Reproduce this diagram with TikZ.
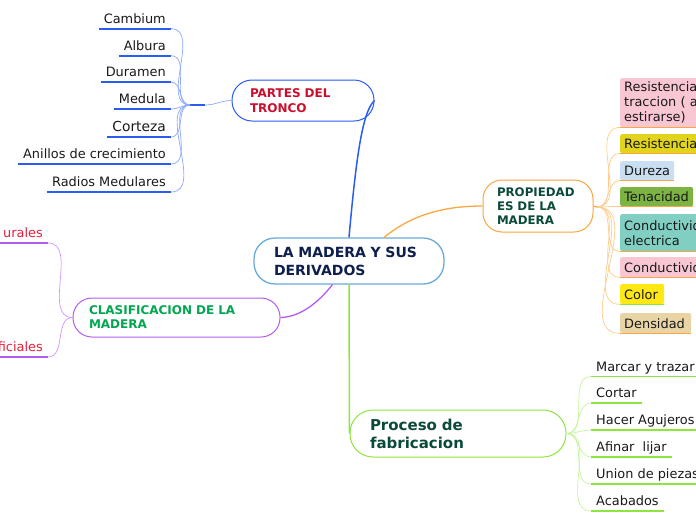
\documentclass[tikz,border=0pt]{standalone}
\usepackage{fontspec}
\setmainfont{DejaVu Sans}
\definecolor{mbblue}{HTML}{2A5CF0}
\definecolor{mblightblue}{HTML}{8AA8FF}
\definecolor{mbsky}{HTML}{6AAAD8}
\definecolor{mbnavy}{HTML}{0E1F4D}
\definecolor{mbcrimson}{HTML}{C8102E}
\definecolor{mborange}{HTML}{F9A73E}
\definecolor{mblightorange}{HTML}{FFCB8C}
\definecolor{mbdkgreen}{HTML}{0B4A3A}
\definecolor{mblime}{HTML}{8EE53F}
\definecolor{mblightlime}{HTML}{C5F59A}
\definecolor{mbpurple}{HTML}{B45CF2}
\definecolor{mblightpurple}{HTML}{CF94FF}
\definecolor{mbgreen}{HTML}{00A650}
\definecolor{mbred}{HTML}{E3203C}
\definecolor{fpink}{HTML}{F8C7D3}
\definecolor{folive}{HTML}{E2D41C}
\definecolor{fsky}{HTML}{C9DFF1}
\definecolor{fgreen}{HTML}{7CB342}
\definecolor{fteal}{HTML}{80CFC2}
\definecolor{fyellow}{HTML}{FFE814}
\definecolor{ftan}{HTML}{E9D4A6}
\newcommand\leaffont{\fontsize{12.9}{15}\selectfont}

\begin{document}
\begin{tikzpicture}[x=1pt,y=-1pt,
    topic/.style={draw,line width=1pt,fill=white,align=left,inner ysep=0pt,
      font=\bfseries\fontsize{12}{14}\selectfont},
    leaf/.style={inner xsep=5pt,inner ysep=0pt,text height=10pt,text depth=5pt,
      font=\leaffont,text=black!90},
    prop/.style={anchor=north west,inner xsep=4pt,inner ysep=0pt,rounded corners=1.5pt,
      align=left,font=\leaffont,text=black!90},
    uline/.style={line width=1.8pt},
    twig/.style={line width=0.7pt}]
  \useasboundingbox (0,0) rectangle (696,520);
  \clip (0,0) rectangle (696,520);

  % central topic and main branches
  \node[topic,draw=mbsky,line width=1.3pt,rounded corners=21pt,text=mbnavy,inner xsep=20pt,
    text width=150pt,minimum height=46pt,font=\bfseries\fontsize{14}{18}\selectfont]
    (madera) at (349,261) {LA MADERA Y SUS\\DERIVADOS};
  \node[topic,draw=mbblue,rounded corners=20pt,text=mbcrimson,inner xsep=18pt,
    text width=106pt,minimum height=41pt,font=\bfseries\fontsize{12}{15}\selectfont]
    (partes) at (303,100.5) {PARTES DEL\\TRONCO};
  \node[topic,draw=mborange,rounded corners=19pt,text=mbdkgreen,inner xsep=14pt,
    text width=82pt,minimum height=52pt,font=\bfseries\fontsize{11.8}{14}\selectfont]
    (prop) at (538,206) {PROPIEDAD\\ES DE LA\\MADERA};
  \node[topic,draw=mbpurple,rounded corners=19pt,text=mbgreen,inner xsep=16pt,
    text width=175pt,minimum height=39pt]
    (clasif) at (176.5,317.5) {CLASIFICACION DE LA\\MADERA};
  \node[topic,draw=mblime,rounded corners=23pt,text=mbdkgreen,inner xsep=20pt,
    text width=176pt,minimum height=47pt,font=\bfseries\fontsize{15}{18}\selectfont]
    (proceso) at (458,433.5) {Proceso de\\fabricacion};

  \draw[mbblue,line width=1.5pt] (madera.north) .. controls (356,160) and (362,112) .. (partes.east);
  \draw[mborange,line width=1.3pt] (madera.34) .. controls (415,212) and (450,206) .. (prop.west);
  \draw[mbpurple,line width=1.3pt] (madera.235) .. controls (318,303) and (300,317) .. (clasif.east);
  \draw[mblime,line width=1.5pt] (madera.south) -- (proceso.west);

  % partes del tronco
  \node[leaf,anchor=south east] (cambium) at (171,28.7) {Cambium};
  \node[leaf,anchor=south east] (albura) at (171,55.7) {Albura};
  \node[leaf,anchor=south east] (duramen) at (171,82) {Duramen};
  \node[leaf,anchor=south east] (medula) at (171,109) {Medula};
  \node[leaf,anchor=south east,font=\fontsize{13.8}{15}\selectfont] (corteza) at (171,137) {Corteza};
  \node[leaf,anchor=south east] (anillos) at (171,164) {Anillos de crecimiento};
  \node[leaf,anchor=south east] (radios) at (171,192) {Radios Medulares};
  \coordinate (pth) at (190,105);
  \coordinate (ptk) at (205,105);
  \draw[mbblue,line width=2pt] (pth) -- (ptk);
  \draw[twig,mblightblue] (ptk) to[out=0,in=180] (partes.west);
  \draw[uline,mbblue] (cambium.south west) -- (cambium.south east);
  \draw[uline,mbblue] (albura.south west) -- (albura.south east);
  \draw[uline,mbblue] (duramen.south west) -- (duramen.south east);
  \draw[uline,mbblue] (medula.south west) -- (medula.south east);
  \draw[uline,mbblue] (corteza.south west) -- (corteza.south east);
  \draw[uline,mbblue] (anillos.south west) -- (anillos.south east);
  \draw[uline,mbblue] (radios.south west) -- (radios.south east);
  \draw[twig,mblightblue] (pth) to[out=180,in=0] (cambium.south east);
  \draw[twig,mblightblue] (pth) to[out=180,in=0] (albura.south east);
  \draw[twig,mblightblue] (pth) to[out=180,in=0] (duramen.south east);
  \draw[twig,mblightblue] (pth) to[out=180,in=0] (medula.south east);
  \draw[twig,mblightblue] (pth) to[out=180,in=0] (corteza.south east);
  \draw[twig,mblightblue] (pth) to[out=180,in=0] (anillos.south east);
  \draw[twig,mblightblue] (pth) to[out=180,in=0] (radios.south east);

  % propiedades
  \node[prop,fill=fpink,text width=82pt,minimum height=49pt] (res1) at (620,78)
    {Resistencia\\traccion ( a\\estirarse)};
  \node[prop,fill=folive,text width=82pt,minimum height=19pt] (res2) at (620,134) {Resistencia};
  \node[prop,fill=fsky,text width=46pt,minimum height=19pt] (dureza) at (620,161) {Dureza};
  \node[prop,fill=fgreen,text width=65pt,minimum height=19pt] (tenac) at (620,187) {Tenacidad};
  \node[prop,fill=fteal,text width=82pt,minimum height=37pt] (condel) at (620,214)
    {Conductividad\\electrica};
  \node[prop,fill=fpink,text width=82pt,minimum height=20pt] (cond) at (620,257) {Conductividad};
  \node[prop,fill=fyellow,text width=36pt,minimum height=20pt] (color) at (620,284) {Color};
  \node[prop,fill=ftan,text width=63pt,minimum height=20pt] (dens) at (620,313) {Densidad};
  \coordinate (prh) at (597,207);
  \draw[mborange,line width=1.3pt] (prop.east) -- (prh);
  \draw[uline,mborange] (res1.south west) -- (res1.south east);
  \draw[uline,mborange] (res2.south west) -- (res2.south east);
  \draw[uline,mborange] (dureza.south west) -- (dureza.south east);
  \draw[uline,mborange] (tenac.south west) -- (tenac.south east);
  \draw[uline,mborange] (condel.south west) -- (condel.south east);
  \draw[uline,mborange] (cond.south west) -- (cond.south east);
  \draw[uline,mblime] (color.south west) -- (color.south east);
  \draw[uline,mborange] (dens.south west) -- (dens.south east);
  \draw[twig,mblightorange] (prh) to[out=0,in=180] (res1.south west);
  \draw[twig,mblightorange] (prh) to[out=0,in=180] (res2.south west);
  \draw[twig,mblightorange] (prh) to[out=0,in=180] (dureza.south west);
  \draw[twig,mblightorange] (prh) to[out=0,in=180] (tenac.south west);
  \draw[twig,mblightorange] (prh) to[out=0,in=180] (condel.south west);
  \draw[twig,mblightorange] (prh) to[out=0,in=180] (cond.south west);
  \draw[twig,mblightorange] (prh) to[out=0,in=180] (color.south west);
  \draw[twig,mblightorange] (prh) to[out=0,in=180] (dens.south west);

  % clasificacion
  \node[leaf,anchor=south east,text=mbred] (natur) at (48,243) {urales};
  \node[leaf,anchor=south east,text=mbred] (artif) at (48,357) {ficiales};
  \draw[uline,mbpurple] (natur.south west) -- (natur.south east);
  \draw[uline,mbpurple] (artif.south west) -- (artif.south east);
  \draw[twig,mblightpurple] (clasif.west) to[out=180,in=0] (natur.south east);
  \draw[twig,mblightpurple] (clasif.west) to[out=180,in=0] (artif.south east);

  % proceso de fabricacion
  \node[leaf,anchor=south west] (marcar) at (591,376.5) {Marcar y trazar};
  \node[leaf,anchor=south west] (cortar) at (591,403) {Cortar};
  \node[leaf,anchor=south west] (agujeros) at (591,430) {Hacer Agujeros};
  \node[leaf,anchor=south west] (afinar) at (591,457) {Afinar\ \ lijar};
  \node[leaf,anchor=south west] (union) at (591,484) {Union de piezas};
  \node[leaf,anchor=south west] (acabados) at (591,511) {Acabados};
  \draw[uline,mblime] (marcar.south west) -- (marcar.south east);
  \draw[uline,mblime] (cortar.south west) -- (cortar.south east);
  \draw[uline,mblime] (agujeros.south west) -- (agujeros.south east);
  \draw[uline,mblime] (afinar.south west) -- (afinar.south east);
  \draw[uline,mblime] (union.south west) -- (union.south east);
  \draw[uline,mblime] (acabados.south west) -- (acabados.south east);
  \draw[twig,mblightlime] (proceso.east) to[out=0,in=180] (marcar.south west);
  \draw[twig,mblightlime] (proceso.east) to[out=0,in=180] (cortar.south west);
  \draw[twig,mblightlime] (proceso.east) to[out=0,in=180] (agujeros.south west);
  \draw[twig,mblightlime] (proceso.east) to[out=0,in=180] (afinar.south west);
  \draw[twig,mblightlime] (proceso.east) to[out=0,in=180] (union.south west);
  \draw[twig,mblightlime] (proceso.east) to[out=0,in=180] (acabados.south west);
\end{tikzpicture}
\end{document}
